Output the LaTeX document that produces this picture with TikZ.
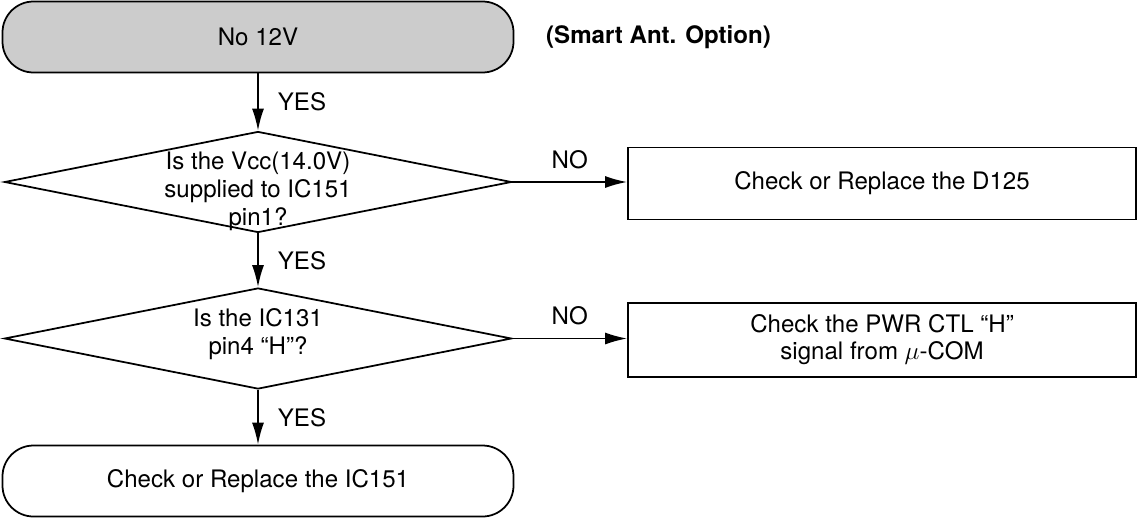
\documentclass[tikz,border=0pt]{standalone}
\usepackage{fontspec}
\setmainfont{TeX Gyre Heros}
\usetikzlibrary{arrows.meta,positioning,shapes.geometric}
\tikzset{
termbox/.style={
  rectangle,
  rounded corners=0.62cm,
  draw=black,
  line width=1pt,
  minimum width=10.22cm,
  minimum height=1.42cm,
  inner sep=0pt,
  align=center
  },
decbox/.style={
  diamond,
  draw=black,
  line width=1pt,
  minimum width=10.14cm,
  minimum height=2.02cm,
  inner sep=0pt
  },
actbox/.style={
  rectangle,
  draw=black,
  line width=1pt,
  minimum width=10.16cm,
  minimum height=1.44cm,
  inner sep=0pt,
  align=center
  }
}
\tikzset{
  flowarr/.style={-{Latex[length=4.4mm,width=2.4mm]}, line width=1pt},
  anslbl/.style={inner sep=0pt},
  dectxt/.style={align=center, font=\fontsize{13.7}{16}\selectfont}
}

\begin{document}
\begin{tikzpicture}[font=\fontsize{13.7}{15.5}\selectfont]
\useasboundingbox (0,0) rectangle (22.76,-10.42);

\node[termbox, fill=black!20] (start) at (5.16,-0.74) {No 12V};
\node[anchor=west, font=\fontsize{13.7}{15.5}\selectfont\bfseries] (option) at (10.80,-0.74) {(Smart Ant. Option)};

\node[decbox] (dec1) at (5.16,-3.64) {};
\node[dectxt] (dec1-txt) at ([yshift=-0.18cm]dec1.center) {Is the Vcc(14.0V)\\supplied to IC151\\pin1?};
\node[actbox] (chk1) at (17.64,-3.67) {Check or Replace the D125};

\node[decbox] (dec2) at (5.16,-6.77) {};
\node[dectxt] (dec2-txt) at ([yshift=0.09cm]dec2.center) {Is the IC131\\pin4 “H”?};
\node[actbox, minimum height=1.48cm] (chk2) at (17.64,-6.80) {Check the PWR CTL “H”\\signal from $\mu$-COM};

\node[termbox] (stop) at (5.16,-9.62) {Check or Replace the IC151};

\draw[flowarr] (start) -- node[anslbl, right=0.38cm] {YES} (dec1);
\draw[flowarr] (dec1) -- node[anslbl, right=0.38cm] {YES} (dec2);
\draw[flowarr] (dec2) -- node[anslbl, right=0.38cm] {YES} (stop);

\draw[flowarr] (dec1.east) -- node[anslbl, above=0.25cm] {NO} (chk1.west |- dec1.east);
\draw[flowarr] (dec2.east) -- node[anslbl, above=0.25cm] {NO} (chk2.west |- dec2.east);

\end{tikzpicture}
\end{document}
